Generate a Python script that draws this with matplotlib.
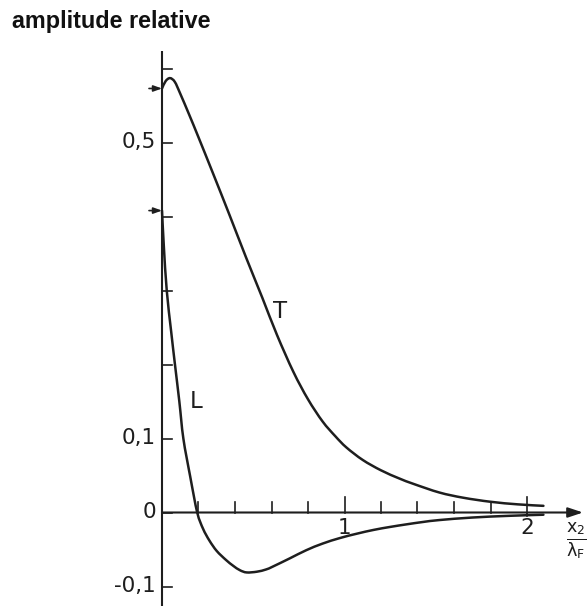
import matplotlib
matplotlib.use("Agg")
import matplotlib.pyplot as plt
from matplotlib.path import Path
from matplotlib.patches import PathPatch
import numpy as np

# ---- data ----
t_x = [0.00, 0.02, 0.044, 0.07, 0.10, 0.15, 0.20, 0.28, 0.37, 0.46, 0.55, 0.63,
       0.72, 0.80, 0.88, 0.95, 1.01, 1.10, 1.20, 1.30, 1.38, 1.52, 1.65, 1.80, 1.95, 2.09]
t_y = [0.573, 0.583, 0.587, 0.582, 0.566, 0.537, 0.507, 0.458, 0.402, 0.345, 0.290, 0.240,
       0.190, 0.153, 0.123, 0.103, 0.088, 0.071, 0.057, 0.046, 0.0385, 0.027, 0.020, 0.0145, 0.011, 0.009]

l_x = [0.00, 0.01, 0.026, 0.05, 0.071, 0.095, 0.117, 0.155, 0.193, 0.225, 0.26, 0.30,
       0.35, 0.39, 0.427, 0.464, 0.52, 0.57, 0.608, 0.70, 0.79, 0.88, 0.975, 1.07,
       1.16, 1.25, 1.34, 1.43, 1.52, 1.70, 1.90, 2.09]
l_y = [0.408, 0.36, 0.300, 0.245, 0.200, 0.150, 0.100, 0.048, 0.000, -0.022, -0.038, -0.052,
       -0.064, -0.072, -0.078, -0.081, -0.080, -0.077, -0.073, -0.062, -0.051, -0.042, -0.0345, -0.0285,
       -0.0235, -0.0195, -0.016, -0.0128, -0.0102, -0.0068, -0.0045, -0.003]

y_ticks = [-0.1, 0.0, 0.1, 0.2, 0.3, 0.4, 0.5, 0.6]
y_labels = {-0.1: "-0,1", 0.0: "0", 0.1: "0,1", 0.5: "0,5"}
x_minor = [0.2, 0.4, 0.6, 0.8, 1.2, 1.4, 1.6, 1.8]
x_major = [1.0, 2.0]
x_labels = {1.0: "1", 2.0: "2"}
start_marks = [t_y[0], l_y[0]]

# ---- layout (pixel calibration) ----
W, H = 588, 607
px_x0, px_per_x = 162.0, 182.5
px_y0, px_per_y = 512.5, 740.0

def dx(px):
    return px / px_per_x
def dy(px):
    return px / px_per_y

def smooth_path(xs, ys):
    """Catmull-Rom curve through the given points, drawn as cubic Bezier segments."""
    p = np.column_stack([xs, ys]).astype(float)
    n = len(p)
    verts = [p[0]]
    codes = [Path.MOVETO]
    for i in range(n - 1):
        p0 = p[i - 1] if i > 0 else p[i]
        p1 = p[i]
        p2 = p[i + 1]
        p3 = p[i + 2] if i + 2 < n else p[i + 1]
        c1 = p1 + (p2 - p0) / 6.0
        c2 = p2 - (p3 - p1) / 6.0
        verts += [c1, c2, p2]
        codes += [Path.CURVE4] * 3
    return Path(verts, codes)

fig = plt.figure(figsize=(W / 100, H / 100), dpi=100)
ax = fig.add_axes([0, 0, 1, 1])
ax.set_xlim(-px_x0 / px_per_x, (W - px_x0) / px_per_x)
ax.set_ylim((px_y0 - H) / px_per_y, px_y0 / px_per_y)
ax.axis("off")

ink = "#1e1e1e"
lw_axis = 1.5
lw_curve = 1.8
fs_num = 15.5

# y axis
ax.plot([0, 0], [-0.126, 0.624], color=ink, lw=lw_axis, solid_capstyle="butt")
for v in y_ticks:
    ax.plot([0, dx(10)], [v, v], color=ink, lw=1.2)
for v, s in y_labels.items():
    ax.text(-dx(6), v, s, ha="right", va="center", fontsize=fs_num,
            color=ink, family="DejaVu Sans")

# x axis with arrow
ax.annotate("", xy=(dx(583 - px_x0), 0), xytext=(0, 0),
            arrowprops=dict(arrowstyle="-|>,head_length=0.9,head_width=0.3",
                            color=ink, lw=lw_axis, shrinkA=0, shrinkB=0))
for v in x_minor:
    ax.plot([v, v], [0, dy(11)], color=ink, lw=1.2)
for v in x_major:
    ax.plot([v, v], [0, dy(16)], color=ink, lw=1.2)
ax.plot([2.0, 2.0], [0, -dy(3)], color=ink, lw=1.2)
for v, s in x_labels.items():
    ax.text(v, -dy(15), s, ha="center", va="center", fontsize=fs_num,
            color=ink, family="DejaVu Sans")

# start arrows on the y axis
for v in start_marks:
    ax.annotate("", xy=(0, v), xytext=(-dx(13), v),
                arrowprops=dict(arrowstyle="-|>,head_length=0.5,head_width=0.18",
                                color=ink, lw=1.2, shrinkA=0, shrinkB=0))

# curves
for xs, ys in [(t_x, t_y), (l_x, l_y)]:
    ax.add_patch(PathPatch(smooth_path(xs, ys), fill=False, edgecolor=ink,
                           lw=lw_curve, capstyle="round", joinstyle="round"))

# curve labels
ax.text(0.645, 0.272, "T", ha="center", va="center", fontsize=16.5, color=ink)
ax.text(0.186, 0.150, "L", ha="center", va="center", fontsize=16.5, color=ink)

# x axis label (fraction)
ax.text(dx(566 - px_x0), -dy(29), r"$\frac{\mathrm{x_2}}{\mathrm{\lambda_F}}$",
        ha="left", va="center", fontsize=18, color=ink)

# title
fig.text(12 / W, 1 - 28 / H, "amplitude relative", ha="left", va="baseline",
         fontsize=16.8, fontweight="bold", family="Liberation Sans", color="#111111")

fig.savefig("out.png", dpi=100, facecolor="white")
